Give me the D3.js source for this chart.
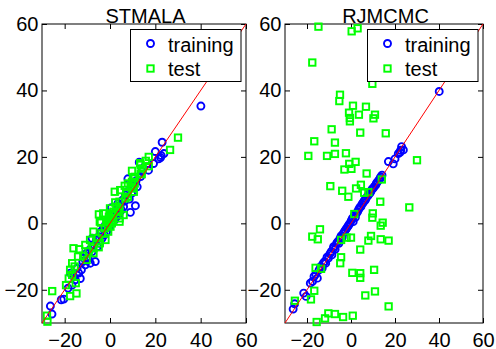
<!DOCTYPE html>
<html>
<head>
<meta charset="utf-8">
<script src="https://cdn.jsdelivr.net/npm/d3@7"></script>
<style>
  body { margin: 0; background: #fff; }
  svg { display: block; }
  text { font-family: "Liberation Sans", Arial, Helvetica, sans-serif; }
</style>
</head>
<body>
<div id="chart"></div>
<script>
// true target values (x) and predictions (y) for the two samplers
const trainTrue = [-26.3,-25.6,-21.5,-20.4,-18.5,-17.5,-16.8,-16.0,-15.3,-14.5,-13.8,-13.1,-12.6,-12.0,-11.5,-10.9,-10.3,-9.6,-9.0,-8.7,-7.9,-7.9,-7.2,-6.5,-6.0,-5.5,-5.0,-4.5,-4.0,-3.5,-3.0,-2.5,-2.0,-1.5,-1.0,-0.5,0.1,0.6,1.0,1.5,2.0,2.5,3.0,3.5,4.0,4.5,5.0,5.5,6.0,6.5,6.8,7.5,7.9,8.5,9.0,9.5,10.0,10.5,11.2,11.5,12.0,12.9,13.2,13.5,14.1,17.0,19.2,20.0,21.5,22.3,22.6,23.0,23.8,40.1];
const trainSTMALA = [-24.9,-27.3,-23.0,-22.8,-19.5,-15.0,-18.6,-16.0,-17.0,-13.5,-15.0,-16.6,-14.0,-11.5,-10.5,-12.5,-9.0,-10.5,-8.0,-12.0,-8.5,-4.5,-6.5,-11.5,-5.0,-7.0,-4.0,-6.0,-2.5,-4.5,-1.5,-3.5,-0.5,-2.5,0.5,-1.0,2.3,4.7,0.0,2.0,1.0,3.5,2.0,6.0,3.0,5.5,4.0,7.0,5.0,6.7,8.5,9.5,13.4,7.3,3.3,9.0,10.7,11.5,5.3,12.8,11.0,18.4,18.1,14.1,15.6,16.0,18.0,21.6,19.4,19.8,20.4,24.4,21.0,35.3];
const trainRJMCMC = [-25.8,-24.2,-21.0,-22.0,-18.0,-17.5,-16.0,-15.3,-16.5,-14.0,-13.0,-13.5,-12.0,-11.5,-12.0,-10.2,-10.5,-9.2,-8.5,-9.5,-7.5,-7.0,-7.8,-6.0,-5.5,-6.0,-4.5,-3.8,-4.2,-3.0,-2.5,-2.0,-1.5,-1.0,-0.5,0.0,0.8,1.5,0.5,2.5,1.8,3.0,3.5,4.2,4.8,5.0,5.8,6.2,6.8,7.0,7.5,8.2,8.5,9.0,9.5,10.2,10.5,11.0,11.5,12.0,12.5,13.2,13.5,14.0,14.5,18.6,17.9,19.4,21.0,21.4,22.0,23.1,22.1,39.7];

const testTrue = [-27.8,-27.6,-25.5,-19.4,-18.2,-17.6,-17.6,-16.7,-16.7,-16.1,-15.6,-15.1,-14.8,-14.1,-13.6,-11.8,-10.9,-10.3,-9.4,-8.8,-7.3,-7.3,-7.3,-5.3,-5.0,-4.9,-4.5,-4.5,-4.0,-3.6,-3.0,-2.3,-2.0,-1.2,-0.9,-0.8,-0.5,-0.5,0.0,0.2,0.3,0.6,0.8,0.9,1.5,2.1,2.3,3.0,3.6,4.2,4.2,4.2,4.2,4.5,6.0,6.5,6.8,7.1,7.9,7.9,9.1,9.7,9.7,9.9,10.2,10.5,10.9,10.9,13.3,13.5,13.5,14.0,14.4,15.8,17.1,17.1,26.5,30.0];
const testSTMALA = [-27.8,-29.6,-20.4,-18.6,-16.6,-14.0,-21.9,-12.0,-15.5,-7.5,-13.0,-18.0,-21.1,-10.0,-7.8,-9.8,-6.5,-11.0,-8.5,-5.0,-7.5,-2.5,-9.0,-4.5,-7.2,2.7,0.5,-6.0,0.2,-3.0,3.0,-1.5,-5.0,1.0,-0.5,-2.5,0.5,2.0,4.5,-1.0,1.5,3.0,0.0,2.5,3.5,9.5,6.3,5.0,3.5,6.5,0.5,1.5,4.0,10.0,2.5,11.3,7.5,9.0,12.0,8.0,11.0,15.8,12.5,10.5,13.5,9.5,14.0,12.0,18.1,17.6,15.0,14.8,16.5,18.8,17.2,20.0,22.1,25.8];
const testRJMCMC = [-35,66,-23.3,20.3,-22.9,48.4,-4.0,24.7,-20.3,-13.4,-29.7,-4.8,59.2,-1.8,-13.7,-28.6,20.3,-27.1,11.2,28.3,24.3,20.9,-27.3,36.8,38.7,-12.0,-5.0,-10.2,9.8,-28.2,16.2,21.1,-4.3,8.0,33.3,17.9,31.7,30.7,-4.3,16.4,57.8,-14.9,-27.8,35.4,2.8,18.5,10.5,58.7,32.7,27.3,-7.9,-15.0,-16.4,11.6,9.2,-21.7,35.1,15.0,9.4,-5.2,-3.8,42.0,1.7,3.0,31.6,-14.0,32.7,-20.5,6.5,-0.7,-4.8,13.2,0.2,27.1,-5.2,-25.0,4.8,19.0];

const axisRange = [-30, 60];
const tickVals = [-20, 0, 20, 40, 60];
const legendLabels = ["training", "test"];

const W = 496, H = 349;
const plotTop = 24, plotBottom = 323;
const fontSize = 20;

const svg = d3.select("#chart").append("svg")
  .attr("width", W)
  .attr("height", H);

const panels = [
  { title: "STMALA", left: 42, right: 246, train: trainSTMALA, test: testSTMALA },
  { title: "RJMCMC", left: 285, right: 483, train: trainRJMCMC, test: testRJMCMC }
];

const inside = v => v >= axisRange[0] && v <= axisRange[1];

function drawCircle(sel, cx, cy) {
  sel.append("circle")
    .attr("cx", cx).attr("cy", cy).attr("r", 3.5)
    .attr("fill", "none").attr("stroke", "#0000ff").attr("stroke-width", 1.9);
}
function drawSquare(sel, cx, cy) {
  sel.append("rect")
    .attr("x", cx - 3.2).attr("y", cy - 3.2).attr("width", 6.4).attr("height", 6.4)
    .attr("fill", "none").attr("stroke", "#00ff00").attr("stroke-width", 1.9);
}

panels.forEach(p => {
  const x = d3.scaleLinear().domain(axisRange).range([p.left, p.right]);
  const y = d3.scaleLinear().domain(axisRange).range([plotBottom, plotTop]);
  const g = svg.append("g");

  // axes, MATLAB style: ticks inside, box on
  const styleAxis = a => {
    a.attr("font-size", fontSize).attr("font-family", null);
    a.select(".domain").remove();
    a.selectAll(".tick line").attr("stroke", "#000");
    a.selectAll(".tick text").attr("fill", "#000");
  };
  g.append("g").attr("transform", `translate(0,${plotBottom})`)
    .call(d3.axisBottom(x).tickValues(tickVals).tickSizeInner(-5).tickSizeOuter(0).tickPadding(9.5))
    .call(styleAxis);
  g.append("g").attr("transform", `translate(0,${plotTop})`)
    .call(d3.axisTop(x).tickValues(tickVals).tickSizeInner(-5).tickSizeOuter(0).tickFormat(""))
    .call(styleAxis);
  g.append("g").attr("transform", `translate(${p.left},0)`)
    .call(d3.axisLeft(y).tickValues(tickVals).tickSizeInner(-5).tickSizeOuter(0).tickPadding(3.5))
    .call(styleAxis);
  g.append("g").attr("transform", `translate(${p.right},0)`)
    .call(d3.axisRight(y).tickValues(tickVals).tickSizeInner(-5).tickSizeOuter(0).tickFormat(""))
    .call(styleAxis);

  g.append("rect")
    .attr("x", p.left).attr("y", plotTop)
    .attr("width", p.right - p.left).attr("height", plotBottom - plotTop)
    .attr("fill", "none").attr("stroke", "#000").attr("stroke-width", 1);

  // training points
  const pts = g.append("g");
  trainTrue.forEach((t, i) => {
    if (inside(t) && inside(p.train[i])) drawCircle(pts, x(t), y(p.train[i]));
  });
  // test points
  testTrue.forEach((t, i) => {
    if (inside(t) && inside(p.test[i])) drawSquare(pts, x(t), y(p.test[i]));
  });

  // y = x reference line
  g.append("line")
    .attr("x1", x(axisRange[0])).attr("y1", y(axisRange[0]))
    .attr("x2", x(axisRange[1])).attr("y2", y(axisRange[1]))
    .attr("stroke", "#ff0000").attr("stroke-width", 1);

  // title
  g.append("text")
    .attr("x", (p.left + p.right) / 2 + 1.5).attr("y", 23)
    .attr("text-anchor", "middle").attr("font-size", fontSize)
    .text(p.title);

  // legend
  const lw = 110.5, lh = 52;
  const lx = p.right - 5 - lw, ly = 29.5;
  const leg = g.append("g");
  leg.append("rect")
    .attr("x", lx).attr("y", ly).attr("width", lw).attr("height", lh)
    .attr("fill", "#fff").attr("stroke", "#000").attr("stroke-width", 1);
  drawCircle(leg, lx + 20, ly + 14);
  drawSquare(leg, lx + 20, ly + 39);
  legendLabels.forEach((lab, i) => {
    leg.append("text")
      .attr("x", lx + 37.5).attr("y", ly + 22 + i * 24)
      .attr("font-size", fontSize)
      .text(lab);
  });
});
</script>
</body>
</html>
